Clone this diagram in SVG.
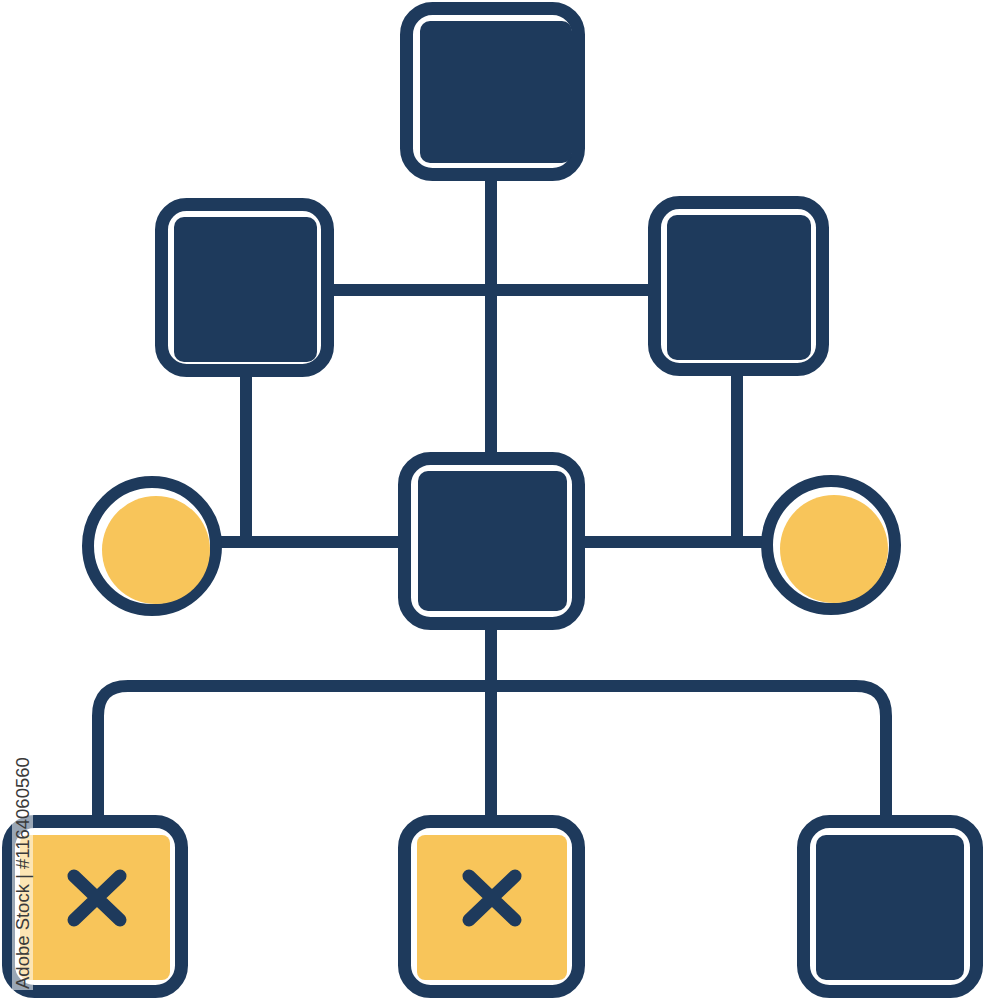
<svg xmlns="http://www.w3.org/2000/svg" width="984" height="1000" viewBox="0 0 984 1000">
<style>
.frame{fill:#ffffff;stroke:#1e3a5c;stroke-width:13}
.dark{fill:#1e3a5c}
.yel{fill:#f8c55a}
.conn{fill:none;stroke:#1e3a5c;stroke-width:12;stroke-linecap:butt;stroke-linejoin:round}
.x{stroke:#1e3a5c;stroke-width:13;stroke-linecap:round}
.wm{font-family:'Liberation Sans',Arial,sans-serif;font-size:18.5px;fill:#3a3a3a}
</style>
<rect width="984" height="1000" fill="#ffffff"/>
<g id="connectors">
<path class="conn" d="M491 181 V452"/>
<path class="conn" d="M334 290 H648"/>
<path class="conn" d="M246 377 V542"/>
<path class="conn" d="M221 542 H398"/>
<path class="conn" d="M737 376 V542"/>
<path class="conn" d="M585 542 H763"/>
<path class="conn" d="M491 630 V815"/>
<path class="conn" d="M98 815 V716 Q98 686 128 686 H856 Q886 686 886 716 V815"/>
</g>
<g id="node-top">
<rect class="frame" x="406.5" y="8.5" width="172" height="166" rx="26"/>
<rect class="dark" x="420" y="21" width="152" height="142" rx="10"/>
</g>
<g id="node-left">
<rect class="frame" x="161.5" y="204.5" width="166" height="166" rx="25"/>
<rect class="dark" x="174" y="217" width="143" height="145" rx="10"/>
</g>
<g id="node-right">
<rect class="frame" x="654.5" y="202.5" width="168" height="167" rx="25"/>
<rect class="dark" x="667" y="215" width="144" height="145" rx="10"/>
</g>
<g id="node-center">
<rect class="frame" x="404.5" y="458.5" width="174" height="165" rx="26"/>
<rect class="dark" x="418" y="471" width="149" height="140" rx="10"/>
</g>
<g id="circle-left">
<circle cx="152" cy="546" r="64" fill="#ffffff" stroke="#1e3a5c" stroke-width="12"/>
<circle class="yel" cx="156" cy="550" r="54"/>
</g>
<g id="circle-right">
<circle cx="831" cy="545" r="64" fill="#ffffff" stroke="#1e3a5c" stroke-width="12"/>
<circle class="yel" cx="834" cy="549" r="54"/>
</g>
<g id="node-bottom-left">
<rect class="frame" x="8.5" y="821.5" width="173" height="170" rx="26"/>
<rect class="yel" x="20" y="835" width="150" height="145" rx="8"/>
<path class="x" d="M74 876 L120 920 M120 876 L74 920"/>
</g>
<g id="node-bottom-middle">
<rect class="frame" x="404.5" y="821.5" width="174" height="170" rx="26"/>
<rect class="yel" x="417" y="835" width="150" height="145" rx="8"/>
<path class="x" d="M469 876 L515 920 M515 876 L469 920"/>
</g>
<g id="node-bottom-right">
<rect class="frame" x="803.5" y="821.5" width="173" height="170" rx="26"/>
<rect class="dark" x="816" y="835" width="148" height="145" rx="10"/>
</g>
<g id="watermark">
<rect x="12" y="750" width="21" height="240" fill="#ffffff" opacity="0.55"/>
<text class="wm" transform="translate(29,989) rotate(-90)">Adobe Stock | #1164060560</text>
</g>
</svg>
